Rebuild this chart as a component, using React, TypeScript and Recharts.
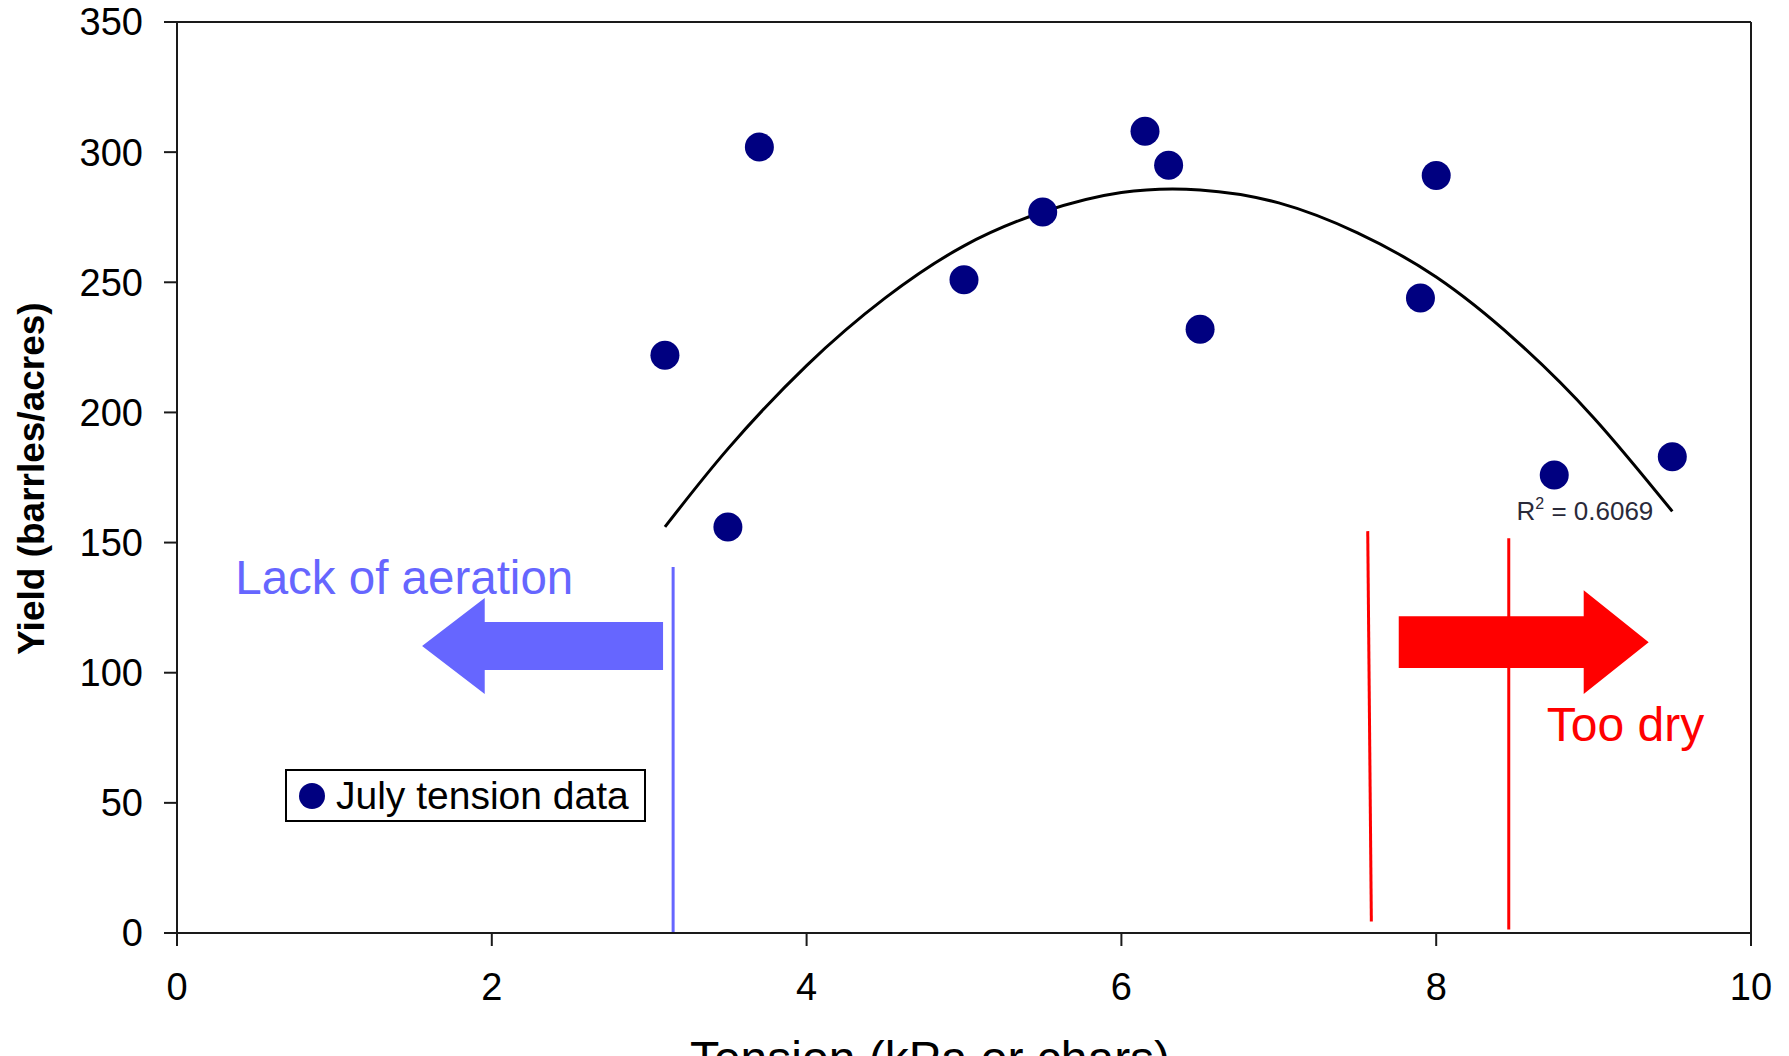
import React from 'react';
import {
  ComposedChart,
  Scatter,
  Line,
  XAxis,
  YAxis,
  ReferenceLine,
  ReferenceArea,
  ReferenceDot,
  Legend,
} from 'recharts';

// ---- data ----
const tensionValues = [3.1, 3.5, 3.7, 5.0, 5.5, 6.15, 6.3, 6.5, 7.9, 8.0, 8.75, 9.5];
const yieldValues = [222, 156, 302, 251, 277, 308, 295, 232, 244, 291, 176, 183];

const trendX = [3.1, 3.5, 4, 4.5, 5, 5.5, 6, 6.5, 7, 7.5, 8, 8.5, 9, 9.5];
const trendY = [156, 186, 218, 244, 264, 277, 284.5, 285.5, 280.5, 269, 252, 228, 198, 162];

const xTicks = [0, 2, 4, 6, 8, 10];
const yTicks = [0, 50, 100, 150, 200, 250, 300, 350];

const seriesName = 'July tension data';
const rSquaredText = '0.6069';

// annotation lines (data coordinates)
const aerationLine = { x: 3.152, yTop: 140.6, yBottom: 0 };
const dryLine1 = { xTop: 7.565, yTop: 154.4, xBottom: 7.588, yBottom: 4.4 };
const dryLine2 = { x: 8.461, yTop: 151.7, yBottom: 1.3 };

// arrows bounding boxes (data coordinates)
const leftArrow = { x1: 1.557, x2: 3.088, y1: 91.8, y2: 128.7 };
const rightArrow = { x1: 7.762, x2: 9.35, y1: 91.8, y2: 131.7 };

const scatterData = tensionValues.map((x, i) => ({ x, y: yieldValues[i] }));
const trendData = trendX.map((x, i) => ({ x, y: trendY[i] }));

const FONT = '"Liberation Sans", Arial, Helvetica, sans-serif';
const AXIS_COLOR = '#1a1a1a';
const NAVY = '#000080';
const BLUE = '#6666FF';
const RED = '#FF0000';

const arrowShape = (dir: 'left' | 'right', color: string) => (props: any) => {
  const { x, y, width, height } = props;
  const hl = width * 0.26;
  const sTop = y + height * 0.25;
  const sBot = y + height * 0.75;
  const mid = y + height / 2;
  let pts: number[][];
  if (dir === 'left') {
    pts = [
      [x, mid],
      [x + hl, y],
      [x + hl, sTop],
      [x + width, sTop],
      [x + width, sBot],
      [x + hl, sBot],
      [x + hl, y + height],
    ];
  } else {
    const r = x + width;
    pts = [
      [r, mid],
      [r - hl, y],
      [r - hl, sTop],
      [x, sTop],
      [x, sBot],
      [r - hl, sBot],
      [r - hl, y + height],
    ];
  }
  return <polygon points={pts.map((p) => p.join(',')).join(' ')} fill={color} stroke="none" />;
};

const textShape = (label: string, color: string, size: number) => (props: any) => (
  <text x={props.cx} y={props.cy} fill={color} fontSize={size} fontFamily={FONT} textAnchor="start">
    {label}
  </text>
);

const rSquaredShape = (props: any) => (
  <text x={props.cx} y={props.cy} fill="#2a2a3a" fontSize={26} fontFamily={FONT} textAnchor="start">
    <tspan>R</tspan>
    <tspan dy={-11} fontSize={16}>2</tspan>
    <tspan dy={11}>{` = ${rSquaredText}`}</tspan>
  </text>
);

const YLabel = (props: any) => {
  const vb = props.viewBox || { x: 0, y: 22, width: 177, height: 911 };
  const cx = vb.x + 31;
  const cy = vb.y + vb.height / 2 + 1;
  return (
    <text
      x={cx}
      y={cy}
      transform={`rotate(-90 ${cx} ${cy})`}
      textAnchor="middle"
      dominantBaseline="central"
      fontSize={37}
      fontWeight="bold"
      fontFamily={FONT}
      fill="#000"
    >
      Yield (barrles/acres)
    </text>
  );
};

const XLabel = (props: any) => {
  const vb = props.viewBox || { x: 177, y: 933, width: 1574, height: 123 };
  const cx = vb.x + vb.width / 2 - 34;
  const cy = vb.y + 142;
  return (
    <text x={cx} y={cy} textAnchor="middle" fontSize={48} fontFamily={FONT} fill="#000">
      Tension (kPa or chars)
    </text>
  );
};

const LegendBox = () => (
  <div
    style={{
      width: 361,
      height: 53,
      boxSizing: 'border-box',
      border: '2px solid #000',
      background: '#fff',
      display: 'flex',
      alignItems: 'center',
      fontFamily: FONT,
    }}
  >
    <span
      style={{
        display: 'inline-block',
        width: 26,
        height: 26,
        borderRadius: '50%',
        background: NAVY,
        marginLeft: 12,
        marginRight: 11,
      }}
    />
    <span style={{ fontSize: 39, color: '#000', lineHeight: 1 }}>{seriesName}</span>
  </div>
);

export default function App() {
  return (
    <div style={{ position: 'absolute', left: 0, top: 0, width: 1789, height: 1056, overflow: 'hidden', background: '#fff' }}>
      <style>{`body{margin:0;overflow:hidden;}`}</style>
      <ComposedChart width={1789} height={1056} margin={{ top: 22, right: 38, left: 0, bottom: 0 }}>
        <XAxis
          type="number"
          dataKey="x"
          domain={[0, 10]}
          ticks={xTicks}
          allowDataOverflow
          height={123}
          tickSize={13}
          tickMargin={27}
          stroke={AXIS_COLOR}
          strokeWidth={2}
          tick={{ fontSize: 38, fill: '#000', fontFamily: FONT }}
          label={(p: any) => <XLabel {...p} />}
        />
        <YAxis
          type="number"
          dataKey="y"
          domain={[0, 350]}
          ticks={yTicks}
          allowDataOverflow
          width={177}
          tickSize={13}
          tickMargin={21}
          stroke={AXIS_COLOR}
          strokeWidth={2}
          tick={{ fontSize: 38, fill: '#000', fontFamily: FONT }}
          label={(p: any) => <YLabel {...p} />}
        />
        <ReferenceLine y={350} stroke={AXIS_COLOR} strokeWidth={2} ifOverflow="visible" />
        <ReferenceLine x={10} stroke={AXIS_COLOR} strokeWidth={2} ifOverflow="visible" />

        <ReferenceLine
          segment={[
            { x: aerationLine.x, y: aerationLine.yTop },
            { x: aerationLine.x, y: aerationLine.yBottom },
          ]}
          stroke={BLUE}
          strokeWidth={3}
          ifOverflow="visible"
        />
        <ReferenceLine
          segment={[
            { x: dryLine1.xTop, y: dryLine1.yTop },
            { x: dryLine1.xBottom, y: dryLine1.yBottom },
          ]}
          stroke={RED}
          strokeWidth={3}
          ifOverflow="visible"
        />
        <ReferenceLine
          segment={[
            { x: dryLine2.x, y: dryLine2.yTop },
            { x: dryLine2.x, y: dryLine2.yBottom },
          ]}
          stroke={RED}
          strokeWidth={3}
          ifOverflow="visible"
        />

        <ReferenceArea
          x1={leftArrow.x1}
          x2={leftArrow.x2}
          y1={leftArrow.y1}
          y2={leftArrow.y2}
          shape={arrowShape('left', BLUE)}
          ifOverflow="visible"
        />
        <ReferenceArea
          x1={rightArrow.x1}
          x2={rightArrow.x2}
          y1={rightArrow.y1}
          y2={rightArrow.y2}
          shape={arrowShape('right', RED)}
          ifOverflow="visible"
        />

        <ReferenceDot x={0.37} y={130.2} r={0} shape={textShape('Lack of aeration', BLUE, 47.5)} ifOverflow="visible" />
        <ReferenceDot x={8.703} y={73.7} r={0} shape={textShape('Too dry', RED, 48)} ifOverflow="visible" />
        <ReferenceDot x={8.51} y={158.6} r={0} shape={rSquaredShape} ifOverflow="visible" />

        <Line
          data={trendData}
          dataKey="y"
          type="natural"
          stroke="#000"
          strokeWidth={3}
          dot={false}
          activeDot={false}
          legendType="none"
          isAnimationActive={false}
        />
        <Scatter
          name={seriesName}
          data={scatterData}
          dataKey="y"
          fill={NAVY}
          isAnimationActive={false}
          shape={(p: any) => <circle cx={p.cx} cy={p.cy} r={14.5} fill={NAVY} />}
        />
        <Legend
          layout="horizontal"
          verticalAlign="middle"
          align="center"
          content={() => <LegendBox />}
          wrapperStyle={{ position: 'absolute', left: 285, top: 769, width: 361, height: 53 }}
        />
      </ComposedChart>
    </div>
  );
}
